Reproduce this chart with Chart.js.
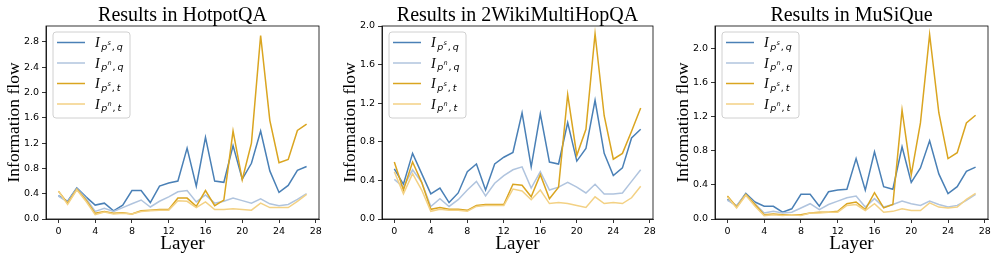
<!DOCTYPE html>
<html lang="en">
<head>
<meta charset="UTF-8">
<title>Information flow per layer</title>
<script src="https://cdn.jsdelivr.net/npm/chart.js"></script>
<style>
  body { margin: 0; background: #fff; width: 997px; height: 260px; position: relative; overflow: hidden; }
  .painel { position: absolute; top: 0; }
</style>
</head>
<body>

<div class="painel" style="left:0px"><canvas id="hotpot" width="330" height="260"></canvas></div>
<div class="painel" style="left:330px"><canvas id="wiki" width="335" height="260"></canvas></div>
<div class="painel" style="left:665px"><canvas id="musique" width="332" height="260"></canvas></div>

<script>
// layers (x axis) and tick labels
const layers = [0, 1, 2, 3, 4, 5, 6, 7, 8, 9, 10, 11, 12, 13, 14, 15, 16, 17, 18, 19, 20, 21, 22, 23, 24, 25, 26, 27];
const xTicks = [0, 4, 8, 12, 16, 20, 24, 28];
const yTicksHotpot = [0, 0.4, 0.8, 1.2, 1.6, 2.0, 2.4, 2.8];
const yTicksWiki = [0, 0.4, 0.8, 1.2, 1.6, 2.0];
const yTicksMusique = [0, 0.4, 0.8, 1.2, 1.6, 2.0];

// HotpotQA
const hotpotPsQ = [0.37, 0.28, 0.49, 0.35, 0.22, 0.25, 0.13, 0.22, 0.45, 0.45, 0.26, 0.52, 0.57, 0.60, 1.12, 0.52, 1.29, 0.60, 0.58, 1.16, 0.63, 0.88, 1.39, 0.76, 0.42, 0.53, 0.77, 0.83];
const hotpotPnQ = [0.36, 0.27, 0.48, 0.33, 0.12, 0.17, 0.12, 0.18, 0.24, 0.30, 0.19, 0.28, 0.35, 0.43, 0.45, 0.27, 0.38, 0.25, 0.28, 0.33, 0.29, 0.25, 0.32, 0.24, 0.21, 0.23, 0.31, 0.40];
const hotpotPsT = [0.44, 0.25, 0.47, 0.30, 0.09, 0.12, 0.09, 0.10, 0.08, 0.13, 0.14, 0.15, 0.15, 0.33, 0.33, 0.20, 0.45, 0.21, 0.30, 1.39, 0.62, 1.20, 2.90, 1.56, 0.89, 0.94, 1.40, 1.50];
const hotpotPnT = [0.44, 0.23, 0.46, 0.28, 0.07, 0.11, 0.08, 0.09, 0.08, 0.12, 0.13, 0.14, 0.14, 0.29, 0.28, 0.18, 0.27, 0.15, 0.15, 0.16, 0.15, 0.14, 0.25, 0.18, 0.18, 0.18, 0.28, 0.39];

// 2WikiMultiHopQA
const wikiPsQ = [0.52, 0.36, 0.68, 0.47, 0.26, 0.32, 0.17, 0.27, 0.49, 0.57, 0.30, 0.57, 0.64, 0.69, 1.10, 0.54, 1.09, 0.59, 0.57, 1.00, 0.60, 0.73, 1.23, 0.68, 0.45, 0.53, 0.84, 0.93];
const wikiPnQ = [0.41, 0.33, 0.51, 0.38, 0.13, 0.21, 0.13, 0.20, 0.30, 0.39, 0.24, 0.37, 0.45, 0.51, 0.54, 0.32, 0.49, 0.30, 0.33, 0.38, 0.33, 0.27, 0.36, 0.26, 0.26, 0.27, 0.39, 0.51];
const wikiPsT = [0.59, 0.30, 0.59, 0.38, 0.10, 0.12, 0.10, 0.10, 0.09, 0.14, 0.15, 0.15, 0.15, 0.36, 0.35, 0.23, 0.46, 0.21, 0.33, 1.29, 0.66, 0.93, 1.92, 1.07, 0.62, 0.68, 0.91, 1.15];
const wikiPnT = [0.49, 0.26, 0.47, 0.30, 0.08, 0.10, 0.09, 0.09, 0.08, 0.13, 0.14, 0.14, 0.14, 0.31, 0.29, 0.20, 0.30, 0.16, 0.17, 0.16, 0.14, 0.12, 0.23, 0.16, 0.17, 0.16, 0.22, 0.34];

// MuSiQue
const musiquePsQ = [0.23, 0.15, 0.30, 0.20, 0.15, 0.15, 0.08, 0.12, 0.29, 0.29, 0.15, 0.32, 0.34, 0.35, 0.71, 0.34, 0.79, 0.38, 0.35, 0.85, 0.43, 0.60, 0.92, 0.53, 0.30, 0.38, 0.56, 0.61];
const musiquePnQ = [0.22, 0.16, 0.29, 0.18, 0.07, 0.09, 0.07, 0.08, 0.13, 0.18, 0.11, 0.17, 0.21, 0.25, 0.27, 0.14, 0.24, 0.14, 0.17, 0.21, 0.18, 0.16, 0.21, 0.17, 0.14, 0.16, 0.22, 0.29];
const musiquePsT = [0.27, 0.14, 0.29, 0.17, 0.05, 0.06, 0.05, 0.05, 0.05, 0.07, 0.08, 0.08, 0.09, 0.18, 0.20, 0.11, 0.31, 0.13, 0.17, 1.28, 0.52, 1.13, 2.17, 1.25, 0.71, 0.78, 1.13, 1.22];
const musiquePnT = [0.26, 0.13, 0.28, 0.15, 0.04, 0.05, 0.04, 0.05, 0.04, 0.07, 0.07, 0.08, 0.08, 0.16, 0.17, 0.10, 0.18, 0.08, 0.09, 0.12, 0.10, 0.10, 0.19, 0.14, 0.13, 0.14, 0.23, 0.30];

// cores das séries (mesma ordem da legenda)
const cores = ['#4a80b6', '#b0c4de', '#daa520', '#f3d184'];
const legendaSup = ['s', 'n', 's', 'n'];
const legendaSub = ['q', 'q', 't', 't'];

// desenha o rótulo I_{p^s,q}
function desenharRotulo(ctx, x, y, sup, sub) {
    ctx.textAlign = 'left';
    ctx.textBaseline = 'alphabetic';
    ctx.fillStyle = '#000';
    ctx.font = 'italic 14px "Liberation Serif"';
    ctx.fillText('I', x, y + 4.5);
    x += ctx.measureText('I').width + 1.5;
    ctx.font = 'oblique 9.5px "DejaVu Sans"';
    ctx.fillText('p', x, y + 7);
    x += ctx.measureText('p').width + 0.3;
    ctx.font = 'oblique 6.5px "DejaVu Sans"';
    ctx.fillText(sup, x, y + 2);
    x += ctx.measureText(sup).width + 0.8;
    ctx.font = '9.5px "DejaVu Sans"';
    ctx.fillText(',', x, y + 7);
    x += ctx.measureText(',').width + 2;
    ctx.font = 'oblique 9.5px "DejaVu Sans"';
    ctx.fillText(sub, x, y + 7);
}

// moldura, títulos e legenda
const painelTexto = {
    id: 'painelTexto',
    afterDraw(chart, args, opts) {
        const ctx = chart.ctx;
        const a = chart.chartArea;
        ctx.save();
        ctx.strokeStyle = '#000';
        ctx.lineWidth = 0.8;
        ctx.strokeRect(a.left, a.top, a.right - a.left, a.bottom - a.top);

        ctx.fillStyle = '#000';
        ctx.textAlign = 'center';
        ctx.textBaseline = 'alphabetic';
        ctx.font = '20px "Liberation Serif"';
        ctx.fillText(opts.titulo, (a.left + a.right) / 2, 21);

        ctx.font = '19px "Liberation Serif"';
        ctx.fillText('Layer', (a.left + a.right) / 2, 248.5);

        ctx.save();
        ctx.translate(a.left - 27, (a.top + a.bottom) / 2);
        ctx.rotate(-Math.PI / 2);
        ctx.font = '17.5px "Liberation Serif"';
        ctx.fillText('Information flow', 0, 0);
        ctx.restore();

        // legenda
        const bx = a.left + 7, by = a.top + 6, bw = 77, bh = 86;
        ctx.beginPath();
        ctx.roundRect(bx, by, bw, bh, 3);
        ctx.fillStyle = 'rgba(255,255,255,0.8)';
        ctx.fill();
        ctx.strokeStyle = '#d0d0d0';
        ctx.lineWidth = 1;
        ctx.stroke();
        for (let i = 0; i < 4; i++) {
            const ly = by + 10.5 + i * 20.5;
            ctx.beginPath();
            ctx.moveTo(bx + 4, ly);
            ctx.lineTo(bx + 32, ly);
            ctx.strokeStyle = cores[i];
            ctx.lineWidth = 1.5;
            ctx.stroke();
            desenharRotulo(ctx, bx + 42, ly, legendaSup[i], legendaSub[i]);
        }
        ctx.restore();
    }
};

function pontos(valores) {
    return valores.map((v, i) => ({ x: layers[i], y: v }));
}

function criarGrafico(id, titulo, series, yTicks, yMax, esquerda, direita) {
    const datasets = series.map((s, i) => ({
        data: pontos(s),
        borderColor: cores[i],
        borderWidth: 1.5,
        pointRadius: 0,
        tension: 0,
        fill: false,
        order: 3 - i
    }));

    const eixoComum = {
        grid: { drawOnChartArea: false, tickLength: 4, color: '#000', lineWidth: 0.8 },
        border: { color: '#000', width: 0.8 },
        ticks: { font: { family: 'DejaVu Sans', size: 9.5 }, color: '#000', padding: 3, maxRotation: 0, autoSkip: false }
    };

    return new Chart(document.getElementById(id), {
        type: 'line',
        data: { datasets: datasets },
        options: {
            responsive: false,
            animation: false,
            devicePixelRatio: 1,
            layout: { padding: { left: 0, right: direita, top: 26, bottom: 0 } },
            plugins: {
                legend: { display: false },
                tooltip: { enabled: false },
                painelTexto: { titulo: titulo }
            },
            scales: {
                x: {
                    ...eixoComum,
                    type: 'linear',
                    min: -1.35,
                    max: 28.35,
                    afterBuildTicks: s => { s.ticks = xTicks.map(v => ({ value: v })); },
                    afterFit: s => { s.height = 41; },
                    ticks: { ...eixoComum.ticks, callback: v => String(v) }
                },
                y: {
                    ...eixoComum,
                    type: 'linear',
                    min: 0,
                    max: yMax,
                    afterBuildTicks: s => { s.ticks = yTicks.map(v => ({ value: v })); },
                    afterFit: s => { s.width = esquerda; },
                    ticks: { ...eixoComum.ticks, callback: v => Number(v).toFixed(1) }
                }
            }
        },
        plugins: [painelTexto]
    });
}

criarGrafico('hotpot', 'Results in HotpotQA', [hotpotPsQ, hotpotPnQ, hotpotPsT, hotpotPnT], yTicksHotpot, 3.05, 46, 11);
criarGrafico('wiki', 'Results in 2WikiMultiHopQA', [wikiPsQ, wikiPnQ, wikiPsT, wikiPnT], yTicksWiki, 2.0, 52, 12);
criarGrafico('musique', 'Results in MuSiQue', [musiquePsQ, musiquePnQ, musiquePsT, musiquePnT], yTicksMusique, 2.27, 50, 9);
</script>
</body>
</html>
